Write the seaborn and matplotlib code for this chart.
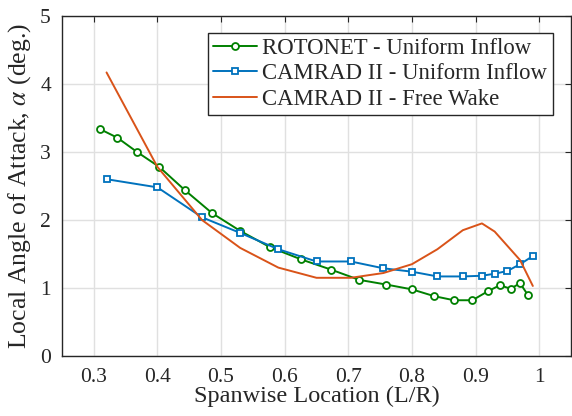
import matplotlib
matplotlib.use("Agg")
import matplotlib.pyplot as plt
import seaborn as sns
import pandas as pd

# ROTONET - Uniform Inflow
rot_x = [0.309, 0.337, 0.368, 0.403, 0.443, 0.486, 0.530, 0.577, 0.626, 0.673, 0.717,
         0.760, 0.800, 0.835, 0.866, 0.895, 0.919, 0.938, 0.955, 0.970, 0.982]
rot_y = [3.34, 3.21, 3.00, 2.78, 2.44, 2.10, 1.84, 1.60, 1.42, 1.27, 1.12,
         1.05, 0.98, 0.88, 0.82, 0.82, 0.95, 1.04, 0.99, 1.07, 0.90]
# CAMRAD II - Uniform Inflow
cui_x = [0.320, 0.400, 0.470, 0.530, 0.590, 0.650, 0.704, 0.755, 0.800, 0.840,
         0.880, 0.910, 0.930, 0.950, 0.970, 0.990]
cui_y = [2.60, 2.48, 2.04, 1.81, 1.57, 1.39, 1.39, 1.29, 1.24, 1.17,
         1.17, 1.18, 1.21, 1.25, 1.35, 1.47]
# CAMRAD II - Free Wake
cfw_x = [0.320, 0.400, 0.470, 0.530, 0.590, 0.650, 0.704, 0.755, 0.800, 0.840,
         0.880, 0.910, 0.930, 0.950, 0.970, 0.990]
cfw_y = [4.17, 2.78, 2.00, 1.59, 1.30, 1.15, 1.15, 1.22, 1.35, 1.57,
         1.85, 1.95, 1.83, 1.62, 1.41, 1.03]

labels = ["ROTONET - Uniform Inflow", "CAMRAD II - Uniform Inflow", "CAMRAD II - Free Wake"]
xticks = [0.3, 0.4, 0.5, 0.6, 0.7, 0.8, 0.9, 1.0]
xticklabels = ["0.3", "0.4", "0.5", "0.6", "0.7", "0.8", "0.9", "1"]
yticks = [0, 1, 2, 3, 4, 5]

sns.set_style("white")
plt.rcParams["font.family"] = ["Liberation Serif", "DejaVu Serif"]
plt.rcParams["mathtext.fontset"] = "stix"

fig = plt.figure(figsize=(5.72, 4.16), dpi=100)
ax = fig.add_axes([62/572, (416-356)/416, 509/572, 340/416])

green = "#008000"
blue = "#0072BD"
orange = "#D95319"

sns.lineplot(x=rot_x, y=rot_y, ax=ax, color=green, lw=1.4, marker="o", markersize=5,
             markerfacecolor="white", markeredgecolor=green, markeredgewidth=1.3,
             sort=False, label=labels[0])
sns.lineplot(x=cui_x, y=cui_y, ax=ax, color=blue, lw=1.4, marker="s", markersize=5,
             markerfacecolor="white", markeredgecolor=blue, markeredgewidth=1.3,
             sort=False, label=labels[1])
sns.lineplot(x=cfw_x, y=cfw_y, ax=ax, color=orange, lw=1.4, sort=False, label=labels[2])

ax.set_xlim(0.25, 1.05)
ax.set_ylim(0, 5)
ax.set_xticks(xticks)
ax.set_xticklabels(xticklabels)
ax.set_yticks(yticks)
ax.grid(True, color="#e0e0e0", lw=1.0)
ax.set_axisbelow(True)
for s in ax.spines.values():
    s.set_visible(True)
    s.set_color("#262626")
    s.set_linewidth(1.0)
ax.tick_params(direction="in", length=4, width=0.8, color="#262626",
               top=True, right=True, labelsize=15.5, labelcolor="#262626")
ax.tick_params(axis="x", pad=9)
ax.tick_params(axis="y", pad=8)
ax.set_xlabel("Spanwise Location (L/R)", fontsize=17.5, color="#262626", labelpad=-1)
ax.set_ylabel(r"Local Angle of Attack, $\alpha$ (deg.)", fontsize=18.5, color="#262626", labelpad=5)

leg = ax.legend(loc="upper right", bbox_to_anchor=(0.9646, 0.951), fontsize=16.4,
                frameon=True, fancybox=False, edgecolor="#262626", framealpha=1,
                handlelength=1.9, handletextpad=0.25, borderpad=0.25, labelspacing=0.18,
                borderaxespad=0)
leg.get_frame().set_linewidth(1.0)

fig.savefig("out.png", dpi=100)
